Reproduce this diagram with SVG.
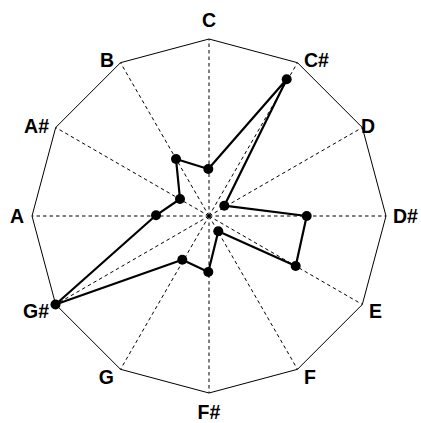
<svg xmlns="http://www.w3.org/2000/svg" width="421" height="423" viewBox="0 0 421 423">
<style>
.frame{fill:none;stroke:#000;stroke-width:1}
.spoke{stroke:#000;stroke-width:1;stroke-dasharray:3.5,3;fill:none}
.data{fill:none;stroke:#000;stroke-width:2.2;stroke-linejoin:round}
.pt{fill:#000}
.lbl{font-family:"Liberation Sans",Arial,sans-serif;font-weight:bold;font-size:19.5px;fill:#000}
</style>
<rect width="421" height="423" fill="#fff"/>
<g id="frame">
<polygon class="frame" points="209,39 297.5,62.7 362.3,127.5 386,216 362.3,304.5 297.5,369.3 209,393 120.5,369.3 55.7,304.5 32,216 55.7,127.5 120.5,62.7"/>
</g>
<g id="connectors">
<line class="spoke" x1="209" y1="216" x2="209" y2="39"/>
<line class="spoke" x1="209" y1="216" x2="297.5" y2="62.7"/>
<line class="spoke" x1="209" y1="216" x2="362.3" y2="127.5"/>
<line class="spoke" x1="209" y1="216" x2="386" y2="216"/>
<line class="spoke" x1="209" y1="216" x2="362.3" y2="304.5"/>
<line class="spoke" x1="209" y1="216" x2="297.5" y2="369.3"/>
<line class="spoke" x1="209" y1="216" x2="209" y2="393"/>
<line class="spoke" x1="209" y1="216" x2="120.5" y2="369.3"/>
<line class="spoke" x1="209" y1="216" x2="55.7" y2="304.5"/>
<line class="spoke" x1="209" y1="216" x2="32" y2="216"/>
<line class="spoke" x1="209" y1="216" x2="55.7" y2="127.5"/>
<line class="spoke" x1="209" y1="216" x2="120.5" y2="62.7"/>
<polygon class="data" points="208.3,169 286.7,79.3 224.3,205.7 306.7,216 295.7,266 218.3,231.3 208.3,272 182.3,259.7 55.5,304.5 156,215.3 180,199 176,159"/>
</g>
<g id="points">
<circle class="pt" cx="208.3" cy="169" r="5"/>
<circle class="pt" cx="286.7" cy="79.3" r="5"/>
<circle class="pt" cx="224.3" cy="205.7" r="5"/>
<circle class="pt" cx="306.7" cy="216" r="5"/>
<circle class="pt" cx="295.7" cy="266" r="5"/>
<circle class="pt" cx="218.3" cy="231.3" r="5"/>
<circle class="pt" cx="208.3" cy="272" r="5"/>
<circle class="pt" cx="182.3" cy="259.7" r="5"/>
<circle class="pt" cx="55.5" cy="304.5" r="5"/>
<circle class="pt" cx="156" cy="215.3" r="5"/>
<circle class="pt" cx="180" cy="199" r="5"/>
<circle class="pt" cx="176" cy="159" r="5"/>
<circle class="pt" cx="209" cy="216" r="1.8"/>
</g>
<g id="labels">
<text class="lbl" x="209" y="27" text-anchor="middle">C</text>
<text class="lbl" x="304" y="67">C#</text>
<text class="lbl" x="361" y="133">D</text>
<text class="lbl" x="393" y="223">D#</text>
<text class="lbl" x="369" y="318">E</text>
<text class="lbl" x="304" y="384">F</text>
<text class="lbl" x="209" y="419" text-anchor="middle">F#</text>
<text class="lbl" x="114" y="384" text-anchor="end">G</text>
<text class="lbl" x="49" y="318" text-anchor="end">G#</text>
<text class="lbl" x="24" y="223" text-anchor="end">A</text>
<text class="lbl" x="49" y="133" text-anchor="end">A#</text>
<text class="lbl" x="114" y="67" text-anchor="end">B</text>
</g>
</svg>
